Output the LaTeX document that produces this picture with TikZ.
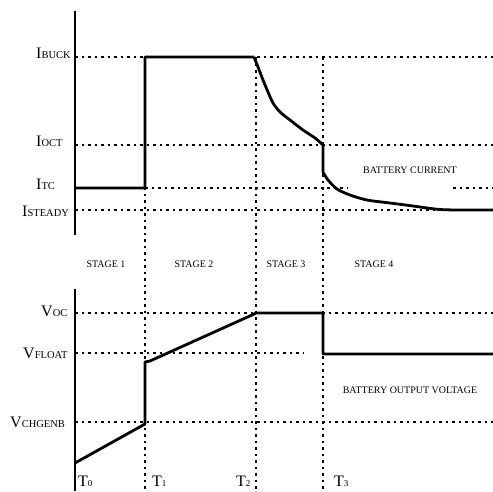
\documentclass[tikz,border=0pt]{standalone}
\usepackage{fontspec}
\setmainfont{Liberation Serif}
\usepackage{tikz}
\usepackage{amsmath}
\usepackage{xcolor}

\tikzset{
    axisline/.style={line width=1.3pt},
    trace/.style={line width=2.8pt,line join=round},
    guide/.style={line width=1.1pt,dash pattern=on 2.5pt off 4pt},
    lvl/.style={anchor=base west,inner sep=0pt,font=\fontsize{16}{16}\selectfont},
    tag/.style={inner sep=0pt,font=\fontsize{10}{10}\selectfont}
}
\newcommand{\lsub}[1]{{\fontsize{10.5}{10}\selectfont #1}}
\newcommand{\tsub}[1]{{\fontsize{9}{9}\selectfont #1}}

\begin{document}
\begin{tikzpicture}[x=1pt,y=-1pt]
            \useasboundingbox (0,0) rectangle (493,491);

            \coordinate (o1) at (75,11);
            \coordinate (e1) at (75,235);
            \coordinate (o2) at (75,289);
            \coordinate (e2) at (75,491);

            \draw[guide] (75,57) -- (493,57);
            \draw[guide] (75,145) -- (493,145);
            \draw[guide] (145,188) -- (347,188);
            \draw[guide] (453,188) -- (493,188);
            \draw[guide] (75,210) -- (440,210);
            \draw[guide] (145,57) -- (145,491);
            \draw[guide] (256,57) -- (256,491);
            \draw[guide] (323,57) -- (323,491);
            \draw[guide] (75,313) -- (493,313);
            \draw[guide] (75,353) -- (303,353);
            \draw[guide] (75,422) -- (493,422);

            \draw[axisline] (o1) -- (e1);
            \draw[axisline] (o2) -- (e2);

            \draw[trace] (75,188) -- (145,188) -- (145,57) -- (254,57)
                plot[smooth] coordinates {(254,57) (258,67) (263,80) (268,92) (273,103) (280,112) (290,120) (303,130) (315,138) (323,145)}
                -- (323,172)
                plot[smooth] coordinates {(323,172) (328,180) (337,189) (350,195) (367,200) (390,203) (413,206) (427,208) (440,209.5) (455,210)}
                -- (493,210);

            \draw[trace] (75,463) -- (145,424) -- (145,362) -- (150,361) -- (252,315) -- (256,313) -- (323,313) -- (323,354) -- (493,354);

            \node (ibuck) at (36,58) [lvl] {I\lsub{BUCK}};
            \node (ioct) at (36,146) [lvl] {I\lsub{OCT}};
            \node (itc) at (36,189) [lvl] {I\lsub{TC}};
            \node (isteady) at (22,216) [lvl] {I\lsub{STEADY}};

            \node (voc) at (41,316) [lvl] {V\lsub{OC}};
            \node (vfloat) at (23,358) [lvl] {V\lsub{FLOAT}};
            \node (vchgenb) at (10,427) [lvl] {V\lsub{CHGENB}};

            \node (t0) at (78,486) [lvl] {T\tsub{0}};
            \node (t1) at (152,486) [lvl] {T\tsub{1}};
            \node (t2) at (236,486) [lvl] {T\tsub{2}};
            \node (t3) at (334,486) [lvl] {T\tsub{3}};

            \node (stage1) at (106,264) [tag] {STAGE 1};
            \node (stage2) at (194,264) [tag] {STAGE 2};
            \node (stage3) at (286,264) [tag] {STAGE 3};
            \node (stage4) at (374,264) [tag] {STAGE 4};

            \node (current) at (410,170) [tag] {BATTERY CURRENT};
            \node (voltage) at (410,390) [tag] {BATTERY OUTPUT VOLTAGE};

        \end{tikzpicture}
\end{document}
